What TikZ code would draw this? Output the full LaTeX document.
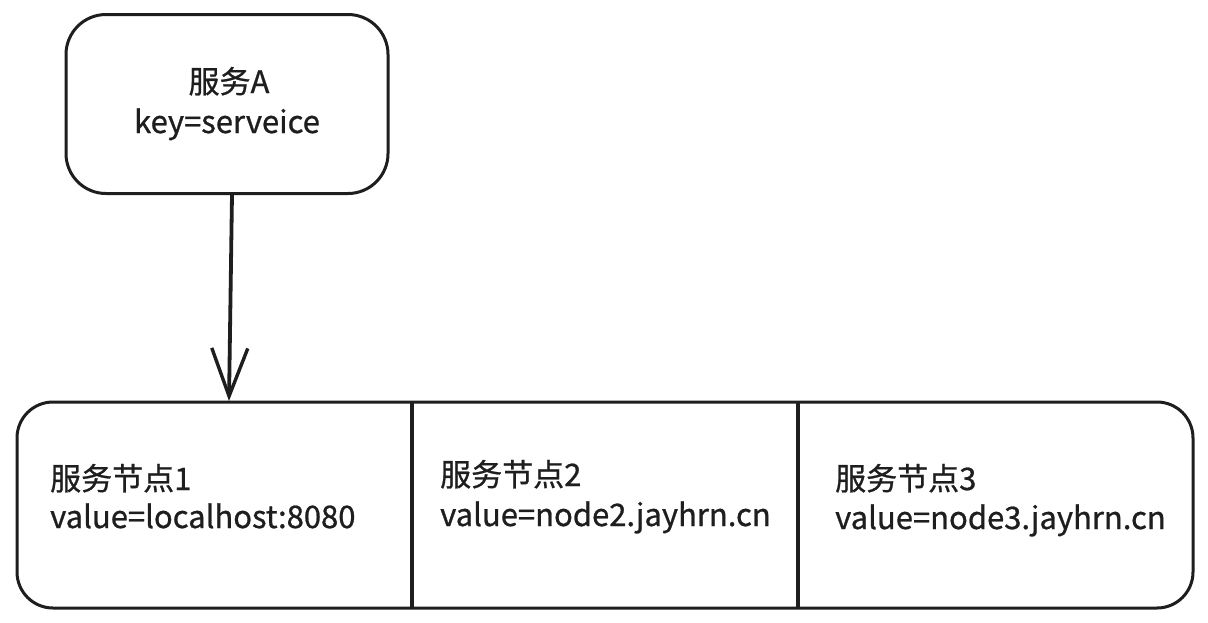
\documentclass[tikz,border=0pt]{standalone}
\usepackage{fontspec}
\setmainfont[FakeBold=0.8]{Noto Sans CJK SC}
\usetikzlibrary{arrows.meta}
\definecolor{ink}{HTML}{1E1E1E}
\begin{document}
\begin{tikzpicture}[x=1pt,y=-1pt,
  box/.style={draw=ink,line width=3pt,rounded corners=40pt,inner sep=0pt},
  txt/.style={text=ink,inner sep=0pt,font=\fontsize{31}{40}\selectfont},
  divider/.style={draw=ink,line width=3.6pt},
  link/.style={draw=ink,line width=3.8pt,-{Straight Barb[length=48pt,width=36pt,line width=3.4pt]}}]
\useasboundingbox[fill=white] (0,0) rectangle (1208,622);
\node[box,minimum width=322pt,minimum height=179pt] (svc) at (227,104) {};
\node[txt,anchor=base] (svc1) at (229,93) {服务A};
\node[txt,anchor=base] (svc2) at (227,133) {key=serveice};
\node[box,rounded corners=36pt,minimum width=1176pt,minimum height=206pt] (nodes) at (605,505) {};
\coordinate (d1t) at (412,402);
\coordinate (d1b) at (412,608);
\coordinate (d2t) at (798,402);
\coordinate (d2b) at (798,608);
\draw[divider] (d1t) -- (d1b);
\draw[divider] (d2t) -- (d2b);
\coordinate (arrowend) at (229,401);
\draw[link] (svc.south -| 232,0) -- (arrowend);
\node[txt,anchor=base west] (n1a) at (50,490) {服务节点1};
\node[txt,anchor=base west] (n1b) at (50,528) {value=localhost:8080};
\node[txt,anchor=base west] (n2a) at (440,486) {服务节点2};
\node[txt,anchor=base west] (n2b) at (440,526) {value=node2.jayhrn.cn};
\node[txt,anchor=base west] (n3a) at (835,490) {服务节点3};
\node[txt,anchor=base west] (n3b) at (835,529) {value=node3.jayhrn.cn};
\end{tikzpicture}
\end{document}
